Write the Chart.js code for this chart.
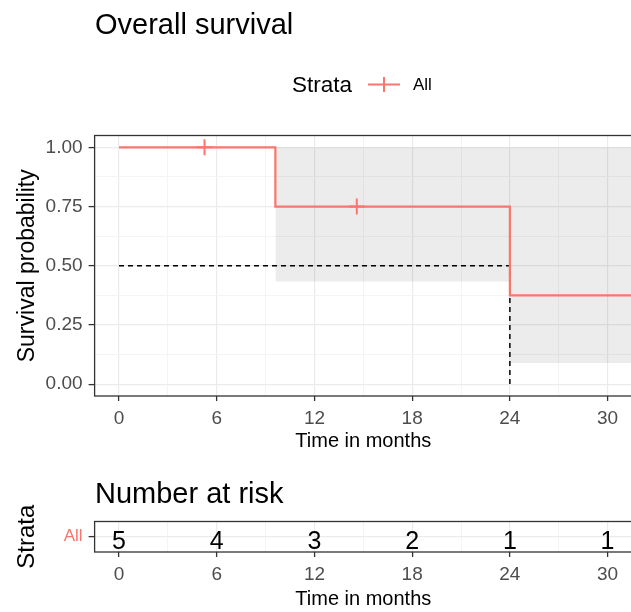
<!DOCTYPE html>
<html>
<head>
<meta charset="utf-8">
<script src="https://cdn.jsdelivr.net/npm/chart.js@4.4.1/dist/chart.umd.min.js"></script>
<style>
  html, body { margin: 0; padding: 0; background: #fff; }
  body { width: 631px; height: 612px; overflow: hidden; position: relative; }
  canvas { position: absolute; left: 0; }
  #km { top: 0; }
  #risk { top: 460px; }
</style>
</head>
<body>
<canvas id="km" width="634" height="460"></canvas>
<canvas id="risk" width="634" height="152"></canvas>
<script>
// survival curve (Kaplan-Meier steps)
const eventTimes = [0, 9.6, 24, 31.5];
const survProb = [1, 0.75, 0.375, 0.375];
// censored observations
const censorTimes = [5.25, 14.6];
const censorProb = [1, 0.75];
// confidence band
const bandTimes = [9.6, 24, 31.5];
const bandUpper = [1, 1, 1];
const bandLower = [0.433, 0.089, 0.089];
// median survival
const medianProb = 0.5;
const medianTime = 24;
// number at risk table
const riskTimes = [0, 6, 12, 18, 24, 30];
const atRisk = [5, 4, 3, 2, 1, 1];
// axis ticks (major + minor gridlines)
const xTicks = [0, 3, 6, 9, 12, 15, 18, 21, 24, 27, 30];
const yTicks = [0, 0.125, 0.25, 0.375, 0.5, 0.625, 0.75, 0.875, 1];

const FONT = '"Liberation Sans", Arial, sans-serif';
const RED = '#F8766D';
Chart.defaults.font.family = FONT;

const pts = (xs, ys) => xs.map((x, i) => ({x: x, y: ys[i]}));
const isMajorX = v => Math.abs(v % 6) < 1e-6;
const isMajorY = v => Math.abs(v * 4 - Math.round(v * 4)) < 1e-6;

function xScale(axisHeight, titleBottom) {
    return {
        type: 'linear', min: -1.5, max: 31.5,
        afterBuildTicks: s => { s.ticks = xTicks.map(v => ({value: v})); },
        afterFit: s => { s.height = axisHeight; },
        ticks: {
            callback: v => isMajorX(v) ? String(v) : '',
            color: '#4D4D4D', font: {size: 19}, padding: 6,
            maxRotation: 0, autoSkip: false
        },
        grid: {
            color: c => (c.tick && isMajorX(c.tick.value)) ? '#EBEBEB' : '#F4F4F4',
            lineWidth: c => (c.tick && isMajorX(c.tick.value)) ? 1.2 : 1,
            tickLength: 5,
            tickWidth: 1.3,
            tickColor: c => (c.tick && isMajorX(c.tick.value)) ? '#333333' : 'rgba(0,0,0,0)'
        },
        border: {display: false},
        title: {display: true, text: 'Time in months', color: '#000', font: {size: 20}, padding: {top: 0, bottom: titleBottom}}
    };
}

// panel border + plot title
const panelBox = {
    id: 'panelBox',
    afterDraw(chart, args, opts) {
        const {ctx, chartArea: a} = chart;
        ctx.save();
        ctx.strokeStyle = '#333333';
        ctx.lineWidth = 1.3;
        ctx.strokeRect(a.left, a.top, a.right - a.left, a.bottom - a.top);
        if (opts.title) {
            ctx.fillStyle = '#000';
            ctx.font = '29px ' + FONT;
            ctx.textAlign = 'left';
            ctx.textBaseline = 'alphabetic';
            ctx.fillText(opts.title, opts.x, opts.y);
        }
        ctx.restore();
    }
};

// ggplot-like inline legend "Strata  + All"
const strataLegend = {
    id: 'strataLegend',
    afterDraw(chart) {
        const ctx = chart.ctx;
        ctx.save();
        ctx.fillStyle = '#000';
        ctx.textBaseline = 'alphabetic';
        ctx.font = '22.5px ' + FONT;
        ctx.fillText('Strata', 292, 92);
        ctx.strokeStyle = RED;
        ctx.lineWidth = 2;
        ctx.beginPath();
        ctx.moveTo(368, 84.5); ctx.lineTo(400, 84.5);
        ctx.moveTo(384, 77); ctx.lineTo(384, 92);
        ctx.stroke();
        ctx.font = '17px ' + FONT;
        ctx.fillText('All', 413, 90);
        ctx.restore();
    }
};

// numbers in the risk table, placed at the dataset points
const riskLabels = {
    id: 'riskLabels',
    afterDatasetsDraw(chart) {
        const ctx = chart.ctx;
        const meta = chart.getDatasetMeta(0);
        ctx.save();
        ctx.fillStyle = '#000';
        ctx.font = '25px ' + FONT;
        ctx.textAlign = 'center';
        ctx.textBaseline = 'alphabetic';
        meta.data.forEach((pt, i) => {
            ctx.fillText(String(atRisk[i]), pt.x, pt.y + 12);
        });
        ctx.restore();
    }
};

new Chart(document.getElementById('km'), {
    type: 'line',
    data: {
        datasets: [
            {label: 'upper', data: pts(bandTimes, bandUpper), stepped: true, borderColor: 'transparent', borderWidth: 0, pointRadius: 0, fill: false, order: 3},
            {label: 'lower', data: pts(bandTimes, bandLower), stepped: true, borderColor: 'transparent', borderWidth: 0, pointRadius: 0, fill: '-1', backgroundColor: 'rgba(0,0,0,0.075)', order: 3},
            {label: 'median', data: [{x: 0, y: medianProb}, {x: medianTime, y: medianProb}, {x: medianTime, y: 0}], borderColor: '#000', borderWidth: 1.5, borderDash: [5, 4], pointRadius: 0, fill: false, order: 2},
            {label: 'All', data: pts(eventTimes, survProb), stepped: true, borderColor: RED, borderWidth: 2.2, pointRadius: 0, fill: false, order: 1},
            {label: 'censor', data: pts(censorTimes, censorProb), showLine: false, pointStyle: 'cross', pointRadius: 8, pointBorderColor: RED, pointBorderWidth: 2, order: 0}
        ]
    },
    options: {
        responsive: false,
        animation: false,
        events: [],
        layout: {autoPadding: false, padding: {top: 135.5, right: 2, bottom: 0, left: 0}},
        scales: {
            x: xScale(64, 7),
            y: {
                type: 'linear', min: -0.05, max: 1.05,
                afterBuildTicks: s => { s.ticks = yTicks.map(v => ({value: v})); },
                afterFit: s => { s.width = 94.6; },
                ticks: {
                    callback: v => isMajorY(v) ? v.toFixed(2) : '',
                    color: '#4D4D4D', font: {size: 19}, padding: 6, autoSkip: false
                },
                grid: {
                    color: c => (c.tick && isMajorY(c.tick.value)) ? '#EBEBEB' : '#F4F4F4',
                    lineWidth: c => (c.tick && isMajorY(c.tick.value)) ? 1.2 : 1,
                    tickLength: 6,
                    tickWidth: 1.3,
                    tickColor: c => (c.tick && isMajorY(c.tick.value)) ? '#333333' : 'rgba(0,0,0,0)'
                },
                border: {display: false},
                title: {display: true, text: 'Survival probability', color: '#000', font: {size: 23}, padding: {top: 13.5, bottom: 0}}
            }
        },
        plugins: {
            legend: {display: false},
            tooltip: {enabled: false},
            panelBox: {title: 'Overall survival', x: 95, y: 34}
        }
    },
    plugins: [panelBox, strataLegend]
});

new Chart(document.getElementById('risk'), {
    type: 'scatter',
    data: {
        datasets: [
            {label: 'All', data: riskTimes.map(t => ({x: t, y: 0.5})), pointRadius: 0, showLine: false}
        ]
    },
    options: {
        responsive: false,
        animation: false,
        events: [],
        layout: {autoPadding: false, padding: {top: 61.5, right: 2, bottom: 0, left: 0}},
        scales: {
            x: xScale(60, 1),
            y: {
                type: 'linear', min: 0, max: 1,
                afterBuildTicks: s => { s.ticks = [{value: 0.5}]; },
                afterFit: s => { s.width = 94.6; },
                ticks: {callback: () => 'All', color: RED, font: {size: 17}, padding: 6},
                grid: {color: '#EBEBEB', lineWidth: 1.2, tickLength: 6, tickWidth: 1.3, tickColor: '#333333'},
                border: {display: false},
                title: {display: true, text: 'Strata', color: '#000', font: {size: 24}, padding: {top: 12.6, bottom: 0}}
            }
        },
        plugins: {
            legend: {display: false},
            tooltip: {enabled: false},
            panelBox: {title: 'Number at risk', x: 95, y: 43}
        }
    },
    plugins: [panelBox, riskLabels]
});
</script>
</body>
</html>
